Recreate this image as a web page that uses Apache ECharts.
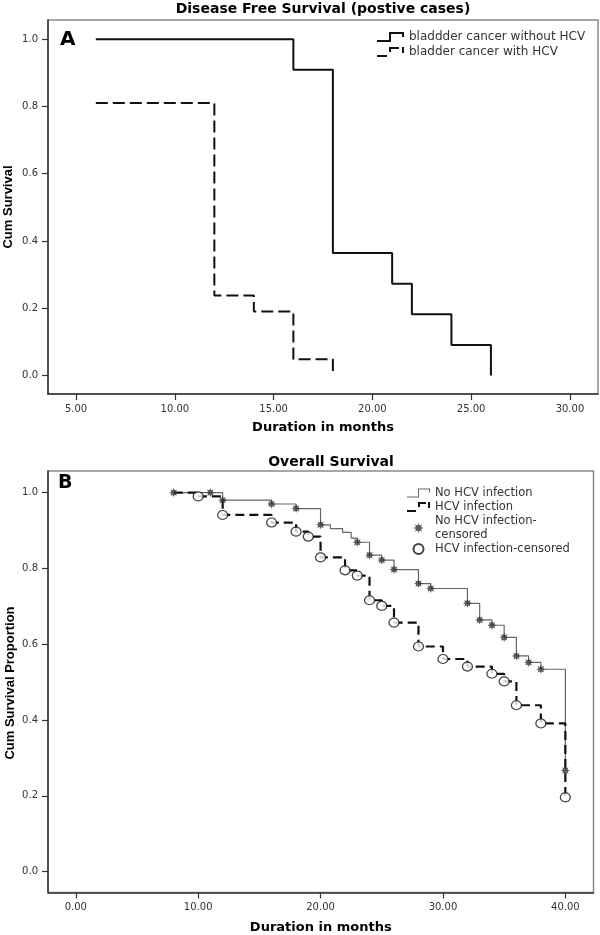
<!DOCTYPE html>
<html>
<head>
<meta charset="utf-8">
<script src="https://cdn.jsdelivr.net/npm/echarts@6/dist/echarts.min.js"></script>
<style>
html,body{margin:0;padding:0;background:#fff;}
#chart{width:600px;height:935px;}
</style>
</head>
<body>
<div id="chart"></div>
<script>
// ---------- Panel A: Disease Free Survival (positive cases) ----------
const monthsA_noHCV = [6, 16, 18, 21, 22, 24, 26];
const survA_noHCV   = [1.0, 0.909, 0.364, 0.273, 0.182, 0.091, 0.0];
const monthsA_HCV   = [6, 12, 14, 16, 18];
const survA_HCV     = [0.81, 0.238, 0.19, 0.048, 0.0];
const xTicksA       = [5, 10, 15, 20, 25, 30];

// ---------- Panel B: Overall Survival ----------
const monthsB_noHCV = [8, 12, 16, 18, 20, 20.8, 21.8, 22.5, 23, 24, 25, 26, 28, 29, 32, 33, 34, 35, 36, 37, 38, 40];
const survB_noHCV   = [1.0, 0.98, 0.97, 0.958, 0.915, 0.905, 0.895, 0.88, 0.869, 0.835, 0.822, 0.797, 0.76, 0.747, 0.708, 0.664, 0.65, 0.618, 0.569, 0.552, 0.534, 0.267];
const monthsB_HCV   = [8, 10, 12, 16, 18, 19, 20, 22, 23, 24, 25, 26, 28, 30, 32, 34, 35, 36, 38, 40];
const survB_HCV     = [1.0, 0.99, 0.941, 0.921, 0.897, 0.884, 0.829, 0.795, 0.781, 0.716, 0.701, 0.657, 0.594, 0.561, 0.541, 0.522, 0.502, 0.439, 0.391, 0.196];
const censB_noHCV_x = [8, 11, 12, 16, 18, 20, 23, 24, 25, 26, 28, 29, 32, 33, 34, 35, 36, 37, 38, 40];
const censB_noHCV_y = [1.0, 1.0, 0.98, 0.97, 0.958, 0.915, 0.869, 0.835, 0.822, 0.797, 0.76, 0.747, 0.708, 0.664, 0.65, 0.618, 0.569, 0.552, 0.534, 0.267];
const censB_HCV_x   = [10, 12, 16, 18, 19, 20, 22, 23, 24, 25, 26, 28, 30, 32, 34, 35, 36, 38, 40];
const censB_HCV_y   = [0.99, 0.941, 0.921, 0.897, 0.884, 0.829, 0.795, 0.781, 0.716, 0.701, 0.657, 0.594, 0.561, 0.541, 0.522, 0.502, 0.439, 0.391, 0.196];
const xTicksB       = [0, 10, 20, 30, 40];

const yTicks = [0, 0.2, 0.4, 0.6, 0.8, 1.0];

const zip = (xs, ys) => xs.map((x, i) => [x, ys[i]]);

// star symbol (8 points)
let starPts = [];
for (let i = 0; i < 16; i++) {
  const r = (i % 2) ? 5.5 : 10;
  const a = i * Math.PI / 8 - Math.PI / 2;
  starPts.push((10 + r * Math.cos(a)).toFixed(2) + ',' + (10 + r * Math.sin(a)).toFixed(2));
}
const starPath = 'path://M' + starPts.join(' L') + ' Z';

// legend icons (step line shapes)
const iconSolidA = 'path://M0,8 L12,8 L12,0 L27,0 L27,5 L25,5 L25,2 L14,2 L14,10 L0,10 Z';
const iconDashA  = 'path://M0,8 L10,8 L10,10 L0,10 Z M12,5 L12,0 L22,0 L22,2 L14,2 L14,5 Z M25,0 L27,0 L27,6 L25,6 Z';
const iconThinB  = 'path://M0,9 L11,9 L11,1 L23,1 L23,5 L22,5 L22,2 L12,2 L12,10 L0,10 Z';
const iconDashB  = 'path://M0,8 L9,8 L9,10 L0,10 Z M11,5 L11,0 L19,0 L19,2 L13,2 L13,5 Z M21,0 L23,0 L23,6 L21,6 Z';

const FONT = 'DejaVu Sans';
const tickColor = '#333';

function xAxisCfg(grid, min, max, ticks, nameGap) {
  return {
    gridIndex: grid, type: 'value', min: min, max: max,
    axisLine: { show: true, onZero: false, lineStyle: { color: '#333', width: 1.5 } },
    axisTick: { show: true, customValues: ticks, length: 6, lineStyle: { color: '#333', width: 1.2 } },
    axisLabel: { customValues: ticks, formatter: v => Number(v).toFixed(2), margin: 10,
                 fontFamily: FONT, fontSize: 10, color: tickColor },
    splitLine: { show: false },
    name: 'Duration in months', nameLocation: 'middle', nameGap: nameGap,
    nameTextStyle: { fontFamily: FONT, fontWeight: 'bold', fontSize: 13, color: '#000' }
  };
}
function yAxisCfg(grid) {
  return {
    gridIndex: grid, type: 'value', min: -0.055, max: 1.057,
    axisLine: { show: true, onZero: false, lineStyle: { color: '#333', width: 1.5 } },
    axisTick: { show: true, customValues: yTicks, length: 6, lineStyle: { color: '#333', width: 1.2 } },
    axisLabel: { customValues: yTicks, formatter: v => Number(v).toFixed(1), margin: 10,
                 fontFamily: FONT, fontSize: 10, color: tickColor },
    splitLine: { show: false }
  };
}

const option = {
  animation: false,
  backgroundColor: '#fff',
  title: [
    { text: 'Disease Free Survival (postive cases)', left: 323, top: 2, textAlign: 'center', padding: 0,
      textStyle: { fontFamily: FONT, fontWeight: 'bold', fontSize: 14, color: '#000' } },
    { text: 'Overall Survival', left: 331, top: 455, textAlign: 'center', padding: 0,
      textStyle: { fontFamily: FONT, fontWeight: 'bold', fontSize: 14, color: '#000' } }
  ],
  grid: [
    { left: 48, top: 20, width: 550, height: 374, show: true, borderColor: '#8a8a8a', borderWidth: 1.5 },
    { left: 48, top: 471, width: 545.5, height: 424, show: true, borderColor: '#8a8a8a', borderWidth: 1.5 }
  ],
  xAxis: [ xAxisCfg(0, 3.58, 31.42, xTicksA, 27), xAxisCfg(1, -2.27, 42.3, xTicksB, 28.5) ],
  yAxis: [ yAxisCfg(0), yAxisCfg(1) ],
  legend: [
    { data: [ { name: 'bladdder cancer without HCV', icon: iconSolidA },
              { name: 'bladder cancer with HCV', icon: iconDashA } ],
      orient: 'vertical', left: 377, top: 29.5, itemWidth: 27, itemHeight: 10, itemGap: 0, padding: 0,
      selectedMode: false, itemStyle: { borderWidth: 0 },
      textStyle: { fontFamily: FONT, fontSize: 12, color: '#333', lineHeight: 15 } },
    { data: [ { name: 'No HCV infection', icon: iconThinB },
              { name: 'HCV infection', icon: iconDashB },
              { name: 'No HCV infection-censored', icon: starPath },
              { name: 'HCV infection-censored', icon: 'circle' } ],
      orient: 'vertical', left: 407, top: 486, itemWidth: 23, itemHeight: 10, itemGap: 0, padding: 0,
      selectedMode: false,
      formatter: n => n === 'No HCV infection-censored' ? 'No HCV infection-\ncensored' : n,
      textStyle: { fontFamily: FONT, fontSize: 11.5, color: '#333', lineHeight: 14 } }
  ],
  graphic: [
    { type: 'text', x: 60, y: 40, style: { text: 'A', fontFamily: FONT, fontWeight: 'bold', fontSize: 20, fill: '#000', align: 'left', verticalAlign: 'middle' } },
    { type: 'text', x: 58, y: 483, style: { text: 'B', fontFamily: FONT, fontWeight: 'bold', fontSize: 19, fill: '#000', align: 'left', verticalAlign: 'middle' } },
    { type: 'text', x: 8, y: 207, rotation: Math.PI / 2, style: { text: 'Cum Survival', fontFamily: 'Liberation Sans', fontWeight: 'bold', fontSize: 13, fill: '#000', align: 'center', verticalAlign: 'middle' } },
    { type: 'text', x: 10, y: 683, rotation: Math.PI / 2, style: { text: 'Cum Survival Proportion', fontFamily: 'Liberation Sans', fontWeight: 'bold', fontSize: 13, fill: '#000', align: 'center', verticalAlign: 'middle' } }
  ],
  series: [
    { name: 'bladdder cancer without HCV', type: 'line', xAxisIndex: 0, yAxisIndex: 0, step: 'end',
      data: zip(monthsA_noHCV, survA_noHCV), symbol: 'none', color: '#111',
      itemStyle: { borderWidth: 0 }, lineStyle: { color: '#111', width: 2 } },
    { name: 'bladder cancer with HCV', type: 'line', xAxisIndex: 0, yAxisIndex: 0, step: 'end',
      data: zip(monthsA_HCV, survA_HCV), symbol: 'none', color: '#111',
      itemStyle: { borderWidth: 0 }, lineStyle: { color: '#111', width: 2, type: [12, 5] } },
    { name: 'No HCV infection', type: 'line', xAxisIndex: 1, yAxisIndex: 1, step: 'end',
      data: zip(monthsB_noHCV, survB_noHCV), symbol: 'none', color: '#666',
      itemStyle: { borderWidth: 0 }, lineStyle: { color: '#666', width: 1.2 }, z: 2 },
    { name: 'HCV infection', type: 'line', xAxisIndex: 1, yAxisIndex: 1, step: 'end',
      data: zip(monthsB_HCV, survB_HCV), symbol: 'none', color: '#111',
      itemStyle: { borderWidth: 0 }, lineStyle: { color: '#111', width: 2.2, type: [9, 5] }, z: 3 },
    { name: 'No HCV infection-censored', type: 'scatter', xAxisIndex: 1, yAxisIndex: 1,
      data: zip(censB_noHCV_x, censB_noHCV_y), symbol: starPath, symbolSize: 9,
      itemStyle: { color: '#333' }, z: 4 },
    { name: 'HCV infection-censored', type: 'scatter', xAxisIndex: 1, yAxisIndex: 1,
      data: zip(censB_HCV_x, censB_HCV_y), symbol: 'circle', symbolSize: [10, 9],
      itemStyle: { color: '#fff', borderColor: '#111', borderWidth: 1.2 }, z: 5 }
  ]
};

const chart = echarts.init(document.getElementById('chart'), null, { renderer: 'canvas' });
chart.setOption(option);
</script>
</body>
</html>
